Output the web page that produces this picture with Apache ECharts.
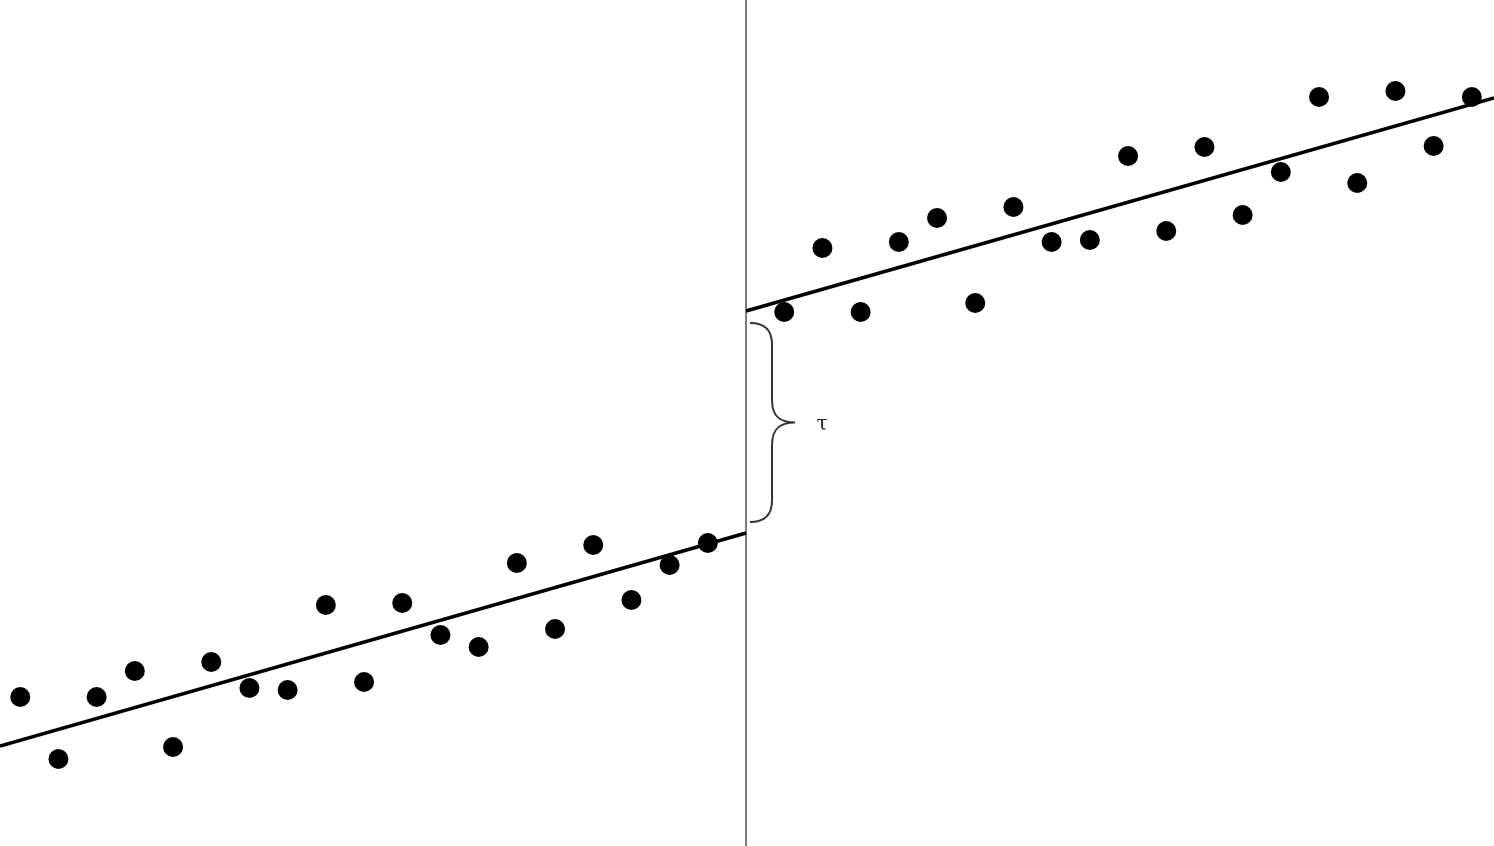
<!DOCTYPE html>
<html>
<head>
<meta charset="utf-8">
<script src="https://cdn.jsdelivr.net/npm/echarts@6/dist/echarts.min.js"></script>
<style>
html,body{margin:0;padding:0;background:#fff;}
#chart{width:1494px;height:846px;}
</style>
</head>
<body>
<div id="chart"></div>
<script>
// running variable relative to cutoff (0)
const leftX = [-19,-18,-17,-16,-15,-14,-13,-12,-11,-10,-9,-8,-7,-6,-5,-4,-3,-2,-1];
const leftY = [149,87,149,175,99,184,158,156,241,164,243,211,199,283,217,301,246,281,303];
const rightX = [1,2,3,4,5,6,7,8,9,10,11,12,13,14,15,16,17,18,19];
const rightY = [534,598,534,604,628,543,639,604,606,690,615,699,631,674,749,663,755,700,749];
// fitted lines (start, end)
const leftFit = [[-19.53,100],[0,313]];
const rightFit = [[0,535],[19.58,748]];
const cutoff = 0;
const jumpLow = 324, jumpHigh = 523;
const jumpLabel = 'τ';

const chart = echarts.init(document.getElementById('chart'));
const zip = (xs, ys) => xs.map((x,i)=>[x, ys[i]]);
chart.setOption({
  animation:false,
  backgroundColor:'#fff',
  grid:{left:0,right:0,top:0,bottom:0},
  xAxis:{type:'value',min:-19.53,max:19.58,show:false},
  yAxis:{type:'value',min:0,max:846,show:false},
  series:[
    {type:'line',data:[[cutoff,0],[cutoff,846]],symbol:'none',lineStyle:{color:'#7a7a7a',width:2},z:1},
    {type:'line',data:leftFit,symbol:'none',lineStyle:{color:'#000',width:3.5},z:2},
    {type:'line',data:rightFit,symbol:'none',lineStyle:{color:'#000',width:3.5},z:2},
    {type:'scatter',data:zip(leftX,leftY),symbol:'circle',symbolSize:20,itemStyle:{color:'#000',opacity:1},z:3},
    {type:'scatter',data:zip(rightX,rightY),symbol:'circle',symbolSize:20,itemStyle:{color:'#000',opacity:1},z:3},
    {type:'custom',z:4,data:[[cutoff,jumpLow,jumpHigh]],
     renderItem:function(params,api){
       const top = api.coord([api.value(0), api.value(2)]);
       const bot = api.coord([api.value(0), api.value(1)]);
       const x0 = top[0]+4, xv = top[0]+26, xt = top[0]+49;
       const yt = top[1], yb = bot[1], ym = (yt+yb)/2;
       const r = 22;
       const p = `M${x0},${yt} C${x0+14},${yt} ${xv},${yt+6} ${xv},${yt+r} L${xv},${ym-r} C${xv},${ym-6} ${xv+8},${ym} ${xt},${ym} C${xv+8},${ym} ${xv},${ym+6} ${xv},${ym+r} L${xv},${yb-r} C${xv},${yb-6} ${x0+14},${yb} ${x0},${yb}`;
       return {type:'group',children:[
         {type:'path',shape:{pathData:p},style:{fill:'none',stroke:'#333',lineWidth:2}},
         {type:'text',style:{text:jumpLabel,x:xt+27,y:ym+2,fill:'#222',font:'20px "DejaVu Serif"',textAlign:'center',textVerticalAlign:'middle'}}
       ]};
     }}
  ]
});
</script>
</body>
</html>
